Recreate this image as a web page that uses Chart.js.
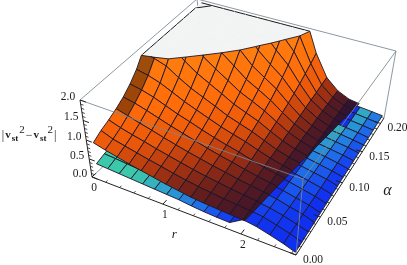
<!DOCTYPE html>
<html>
<head>
<meta charset="utf-8">
<style>
  html, body { margin: 0; padding: 0; background: #fff; }
  canvas { display: block; filter: blur(0.5px); }
</style>
<script src="https://cdn.jsdelivr.net/npm/chart.js@4/dist/chart.umd.js"></script>
</head>
<body>
<canvas id="myChart" width="407" height="265"></canvas>
<script>
const rValues = [0.1, 0.26, 0.42, 0.58, 0.74, 0.9, 1.06, 1.22, 1.38, 1.54, 1.7, 1.86, 2.02, 2.18, 2.34, 2.5, 2.64];
const aValues = [0, 0.0128, 0.0256, 0.0384, 0.0512, 0.064, 0.0768, 0.0896, 0.1024, 0.1152, 0.128, 0.1408, 0.1536, 0.1664, 0.1792, 0.192, 0.205];

// upper sheet, one line per r, one value per a. over 2 gets clipped
const upperSheet = [
  [1.00, 1.12, 1.20, 1.30, 1.42, 1.58, 1.78, 2.05, 2.4, 3, 3, 3, 3, 3, 3, 3, 3],
  [0.92, 1.00, 1.10, 1.22, 1.36, 1.52, 1.72, 1.98, 2.3, 3, 3, 3, 3, 3, 3, 3, 3],
  [0.85, 0.93, 1.02, 1.13, 1.27, 1.43, 1.62, 1.88, 2.2, 3, 3, 3, 3, 3, 3, 3, 3],
  [0.78, 0.86, 0.95, 1.05, 1.17, 1.31, 1.48, 1.68, 1.93, 2.25, 2.6, 3, 3, 3, 3, 3, 3],
  [0.72, 0.79, 0.87, 0.96, 1.07, 1.19, 1.33, 1.50, 1.71, 1.97, 2.3, 2.7, 3, 3, 3, 3, 3],
  [0.66, 0.73, 0.80, 0.88, 0.98, 1.09, 1.21, 1.36, 1.54, 1.75, 2.0, 2.3, 2.7, 3, 3, 3, 3],
  [0.60, 0.66, 0.73, 0.80, 0.89, 0.98, 1.09, 1.22, 1.37, 1.54, 1.75, 2.0, 2.3, 2.7, 3, 3, 3],
  [0.55, 0.60, 0.66, 0.73, 0.80, 0.88, 0.97, 1.07, 1.19, 1.33, 1.49, 1.68, 1.92, 2.2, 2.6, 3, 3],
  [0.50, 0.55, 0.60, 0.66, 0.72, 0.79, 0.87, 0.96, 1.06, 1.18, 1.31, 1.46, 1.64, 1.85, 2.1, 2.4, 2.8],
  [0.47, 0.51, 0.55, 0.60, 0.65, 0.71, 0.78, 0.85, 0.93, 1.02, 1.12, 1.24, 1.38, 1.54, 1.74, 2.0, 2.35],
  [0.45, 0.47, 0.50, 0.53, 0.57, 0.61, 0.66, 0.71, 0.76, 0.82, 0.88, 0.95, 1.03, 1.12, 1.22, 1.33, 1.45],
  [0.43, 0.44, 0.46, 0.48, 0.50, 0.52, 0.55, 0.57, 0.60, 0.63, 0.66, 0.69, 0.72, 0.75, 0.78, 0.81, 0.84],
  [0.41, 0.41, 0.42, 0.43, 0.44, 0.45, 0.46, 0.47, 0.48, 0.49, 0.50, 0.51, 0.52, 0.53, 0.53, 0.54, 0.54],
  [0.38, 0.38, 0.38, 0.39, 0.39, 0.39, 0.39, 0.39, 0.39, 0.39, 0.39, 0.39, 0.39, 0.39, 0.39, 0.39, 0.38],
  [0.36, 0.36, 0.36, 0.36, 0.35, 0.35, 0.35, 0.35, 0.34, 0.34, 0.34, 0.33, 0.33, 0.33, 0.33, 0.32, 0.32]
];
// where the upper sheet stops, at a = 0 and at the last a
const upperEnd = [2.04, 2.32];

// lower sheet, teal strip on the left and blue part on the right
const lowerSheet = [
  [0.44, 0.50, 0.55, 0.58, 0.60, 0.62, 0.62, 0.62, 0.62, 0.62, 0.62, 0.62, 0.62, 0.62, 0.62, 0.62, 0.62],
  [0.42, 0.48, 0.52, 0.55, 0.57, 0.58, 0.58, 0.58, 0.58, 0.58, 0.58, 0.58, 0.58, 0.58, 0.58, 0.58, 0.58],
  [0.40, 0.45, 0.49, 0.52, 0.53, 0.54, 0.54, 0.54, 0.54, 0.54, 0.54, 0.54, 0.54, 0.54, 0.54, 0.54, 0.54],
  [0.38, 0.42, 0.46, 0.48, 0.50, 0.50, 0.50, 0.50, 0.50, 0.50, 0.50, 0.50, 0.50, 0.50, 0.50, 0.50, 0.50],
  [0.36, 0.40, 0.43, 0.45, 0.46, 0.46, 0.46, 0.46, 0.46, 0.46, 0.46, 0.46, 0.46, 0.46, 0.46, 0.46, 0.46],
  [0.34, 0.37, 0.40, 0.42, 0.42, 0.42, 0.42, 0.42, 0.42, 0.42, 0.42, 0.42, 0.42, 0.42, 0.42, 0.42, 0.42],
  [0.32, 0.35, 0.37, 0.38, 0.38, 0.38, 0.38, 0.38, 0.38, 0.38, 0.38, 0.38, 0.38, 0.38, 0.38, 0.38, 0.38],
  [0.30, 0.32, 0.34, 0.35, 0.35, 0.35, 0.35, 0.35, 0.35, 0.35, 0.35, 0.35, 0.35, 0.35, 0.35, 0.35, 0.35],
  [0.26, 0.28, 0.30, 0.31, 0.31, 0.31, 0.31, 0.31, 0.31, 0.31, 0.31, 0.31, 0.31, 0.31, 0.31, 0.31, 0.31],
  [0.23, 0.24, 0.25, 0.26, 0.27, 0.27, 0.27, 0.27, 0.27, 0.27, 0.27, 0.27, 0.27, 0.27, 0.27, 0.27, 0.27],
  [0.21, 0.22, 0.23, 0.24, 0.25, 0.25, 0.25, 0.25, 0.25, 0.25, 0.25, 0.25, 0.25, 0.25, 0.25, 0.25, 0.25],
  [0.20, 0.21, 0.22, 0.23, 0.24, 0.25, 0.25, 0.26, 0.26, 0.26, 0.27, 0.27, 0.28, 0.28, 0.29, 0.30, 0.30],
  [0.42, 0.42, 0.41, 0.41, 0.40, 0.40, 0.39, 0.38, 0.37, 0.36, 0.35, 0.34, 0.33, 0.32, 0.32, 0.31, 0.30],
  [0.37, 0.37, 0.36, 0.36, 0.35, 0.35, 0.34, 0.33, 0.33, 0.32, 0.31, 0.30, 0.30, 0.29, 0.28, 0.28, 0.27],
  [0.28, 0.28, 0.28, 0.27, 0.27, 0.27, 0.27, 0.26, 0.26, 0.26, 0.25, 0.25, 0.25, 0.24, 0.24, 0.24, 0.23],
  [0.18, 0.18, 0.18, 0.19, 0.19, 0.19, 0.19, 0.19, 0.19, 0.19, 0.19, 0.19, 0.19, 0.19, 0.19, 0.19, 0.19],
  [0.07, 0.07, 0.08, 0.08, 0.09, 0.09, 0.10, 0.10, 0.11, 0.11, 0.12, 0.12, 0.13, 0.13, 0.14, 0.15, 0.15]
];

const rTickLabels = ['0', '1', '2'];
const rTicks = [0, 1, 2];
const rMinorTicks = [0.2, 0.4, 0.6, 0.8, 1.2, 1.4, 1.6, 1.8, 2.2, 2.4, 2.6];
const aTickLabels = ['0.00', '0.05', '0.10', '0.15', '0.20'];
const aTicks = [0, 0.05, 0.10, 0.15, 0.20];
const aMinorTicks = [0.01, 0.02, 0.03, 0.04, 0.06, 0.07, 0.08, 0.09, 0.11, 0.12, 0.13, 0.14, 0.16, 0.17, 0.18, 0.19];
const zTickLabels = ['0.0', '0.5', '1.0', '1.5', '2.0'];
const zTicks = [0, 0.5, 1, 1.5, 2];
const zMinorTicks = [0.1, 0.2, 0.3, 0.4, 0.6, 0.7, 0.8, 0.9, 1.1, 1.2, 1.3, 1.4, 1.6, 1.7, 1.8, 1.9];

const rMax = 2.65, aMax = 0.21, zMax = 2;

// box corners on the canvas, index is [r][a][z]
const frame = [
  [[[92, 177], [80, 100]], [[205, 70], [197, -1]]],
  [[[296, 255], [303, 179]], [[384, 118], [396, 51]]]
];
const persp = { r: 0.88, a: 1.2, z: 0.92 };

function project(r, a, z) {
  const u = r / rMax, v = a / aMax, w = z / zMax;
  let sx = 0, sy = 0, sw = 0;
  for (let i = 0; i < 2; i++) for (let j = 0; j < 2; j++) for (let k = 0; k < 2; k++) {
    const b = (i ? u : 1 - u) * (j ? v : 1 - v) * (k ? w : 1 - w);
    const h = 1 + i * (persp.r - 1) + j * (persp.a - 1) + k * (persp.z - 1);
    sx += b * h * frame[i][j][k][0];
    sy += b * h * frame[i][j][k][1];
    sw += b * h;
  }
  return { x: sx / sw, y: sy / sw };
}

function clip(poly, g) {
  const out = [];
  for (let i = 0; i < poly.length; i++) {
    const p = poly[i], q = poly[(i + 1) % poly.length];
    const gp = g(p), gq = g(q);
    if (gp <= 0) out.push(p);
    if ((gp <= 0) !== (gq <= 0)) {
      const t = gp / (gp - gq);
      out.push({ r: p.r + t * (q.r - p.r), a: p.a + t * (q.a - p.a), z: p.z + t * (q.z - p.z) });
    }
  }
  return out;
}

function mix(stops, t) {
  if (t <= stops[0][0]) return stops[0][1];
  for (let i = 1; i < stops.length; i++) {
    if (t <= stops[i][0]) {
      const f = (t - stops[i - 1][0]) / (stops[i][0] - stops[i - 1][0]);
      return stops[i - 1][1].map((c, n) => c + f * (stops[i][1][n] - c));
    }
  }
  return stops[stops.length - 1][1];
}
const rgb = c => 'rgb(' + c.map(Math.round).join(',') + ')';

const upperColors = [
  [0.36, [50, 20, 48]], [0.5, [95, 28, 30]], [0.7, [170, 52, 16]],
  [0.95, [235, 88, 10]], [1.3, [255, 108, 10]], [2, [255, 125, 15]]
];
const lowerColors = [
  [0, [16, 48, 240]], [0.3, [30, 105, 235]], [0.6, [40, 150, 215]], [1, [60, 200, 170]]
];

const endAt = a => upperEnd[0] + (upperEnd[1] - upperEnd[0]) * a / aValues[aValues.length - 1];
const cell = (sheet, i, j) => [
  { r: rValues[i], a: aValues[j], z: sheet[i][j] },
  { r: rValues[i + 1], a: aValues[j], z: sheet[i + 1][j] },
  { r: rValues[i + 1], a: aValues[j + 1], z: sheet[i + 1][j + 1] },
  { r: rValues[i], a: aValues[j + 1], z: sheet[i][j + 1] }
];

const datasets = [];
function addPoly(poly, fillColor, lineColor, lineWidth) {
  if (poly.length < 3) return;
  const pts = poly.map(p => project(p.r, p.a, p.z));
  pts.push(pts[0]);
  datasets.push({
    data: pts, showLine: true, pointRadius: 0, fill: 'shape',
    backgroundColor: fillColor, borderColor: lineColor, borderWidth: lineWidth
  });
}
function addLine(points, color, width) {
  datasets.push({
    data: points.map(p => project(p[0], p[1], p[2])),
    showLine: true, pointRadius: 0, fill: false, borderColor: color, borderWidth: width
  });
}

const boxGray = 'rgba(120,135,145,0.85)';
// back edges of the box first
addLine([[0, 0, 0], [0, aMax, 0], [rMax, aMax, 0]], boxGray, 1);
addLine([[0, aMax, 0], [0, aMax, zMax]], boxGray, 1);
addLine([[0, 0, zMax], [0, aMax, zMax], [rMax, aMax, zMax], [rMax, aMax, 0]], boxGray, 1);

const meshColor = 'rgba(30,22,40,0.9)';
for (let j = aValues.length - 2; j >= 0; j--) {
  for (let i = 0; i < rValues.length - 1; i++) {
    const c = cell(lowerSheet, i, j);
    const r = (c[0].r + c[1].r) / 2, a = (c[0].a + c[3].a) / 2;
    let t;
    if (r < endAt(a)) t = Math.max(0, (1.9 - r) / 1.3);
    else t = (a / 0.2) * Math.max(0, 1 - (r - endAt(a)) / 0.45);
    addPoly(c, rgb(mix(lowerColors, t)), meshColor, 1);
  }
}

// the flat clipped part at z = 2
const keepEnd = p => p.r - endAt(p.a);
for (let j = aValues.length - 2; j >= 0; j--) {
  for (let i = 0; i < upperSheet.length - 1; i++) {
    const top = clip(clip(cell(upperSheet, i, j), p => 2 - p.z), keepEnd).map(p => ({ r: p.r, a: p.a, z: 2 }));
    addPoly(top, '#f2f4f4', '#f2f4f4', 0.5);
    const lastA = aValues[aValues.length - 1];
    const backEdge = top.filter(p => p.a === lastA || p.r === rValues[0]);
    if (backEdge.length > 1) addLine(backEdge.map(p => [p.r, p.a, 2]), '#1a1a1a', 1);
  }
}

for (let j = aValues.length - 2; j >= 0; j--) {
  for (let i = 0; i < upperSheet.length - 1; i++) {
    const c = cell(upperSheet, i, j);
    const mean = Math.min(2, (c[0].z + c[1].z + c[2].z + c[3].z) / 4);
    let col = mix(upperColors, mean);
    if (i === 0 && j > 2) col = col.map(v => v * 0.62);
    addPoly(clip(clip(c, p => p.z - 2), keepEnd), rgb(col), meshColor, 1);
  }
}

// front edges of the box run over the surface
addLine([[0, 0, zMax], [rMax, 0, zMax], [rMax, aMax, zMax]], boxGray, 1);
addLine([[rMax, 0, zMax], [rMax, 0, 0]], boxGray, 1);

// axes and ticks
const axisColor = '#222';
addLine([[0, 0, 0], [rMax, 0, 0]], axisColor, 1);
addLine([[rMax, 0, 0], [rMax, aMax, 0]], axisColor, 1);
addLine([[0, 0, 0], [0, 0, zMax]], axisColor, 1);
rTicks.forEach(t => addLine([[t, 0, 0], [t, 0.006, 0]], axisColor, 1));
rMinorTicks.forEach(t => addLine([[t, 0, 0], [t, 0.003, 0]], axisColor, 0.8));
aTicks.forEach(t => addLine([[rMax, t, 0], [rMax - 0.08, t, 0]], axisColor, 1));
aMinorTicks.forEach(t => addLine([[rMax, t, 0], [rMax - 0.04, t, 0]], axisColor, 0.8));
zTicks.forEach(t => addLine([[0, 0, t], [0.08, 0, t]], axisColor, 1));
zMinorTicks.forEach(t => addLine([[0, 0, t], [0.04, 0, t]], axisColor, 0.8));

const textPlugin = {
  id: 'axisText',
  afterDraw(chart) {
    const ctx = chart.ctx, sx = chart.scales.x, sy = chart.scales.y;
    const put = (txt, p, dx, dy, font) => {
      ctx.font = font;
      ctx.fillText(txt, sx.getPixelForValue(p.x) + dx, sy.getPixelForValue(p.y) + dy);
    };
    const serif = '11.5px "Liberation Serif"';
    ctx.save();
    ctx.fillStyle = '#1c1c1c';
    ctx.textAlign = 'center';
    ctx.textBaseline = 'middle';
    zTicks.forEach((t, i) => put(zTickLabels[i], project(0, 0, t), -12, -3, serif));
    rTicks.forEach((t, i) => put(rTickLabels[i], project(t, 0, 0), 2, 11, serif));
    aTicks.forEach((t, i) => put(aTickLabels[i], project(rMax, t, 0), 17, 5, serif));
    put('r', project(1.15, 0, 0), 0, 26, 'italic 13px "Liberation Serif"');
    put('\u03b1', project(rMax, 0.105, 0), 43, 11, 'italic 16px "Liberation Serif"');
    // z axis title, written in pieces for the raised 2s
    const base = project(0, 0, 1.07);
    let x = sx.getPixelForValue(base.x) - 84;
    const y = sy.getPixelForValue(base.y) - 2;
    ctx.textAlign = 'left';
    const pieces = [
      ['|', 0, '12px "Liberation Serif"'], ['v', 0, 'bold 11px "Liberation Serif"'], ['st', 3, 'bold 9px "Liberation Serif"'],
      ['2', -5, '11px "Liberation Serif"'], ['\u2212', 0, '12px "Liberation Serif"'], ['v', 0, 'bold 11px "Liberation Serif"'],
      ['st', 3, 'bold 9px "Liberation Serif"'], ['2', -5, '11px "Liberation Serif"'], ['|', 0, '12px "Liberation Serif"']
    ];
    pieces.forEach(p => {
      ctx.font = p[2];
      ctx.fillText(p[0], x, y + p[1]);
      x += ctx.measureText(p[0]).width + 1;
    });
    ctx.restore();
  }
};

// chart.js paints the first dataset last, so flip the list
datasets.reverse();

const ctx = document.getElementById('myChart').getContext('2d');
const myChart = new Chart(ctx, {
  type: 'scatter',
  data: { datasets: datasets },
  options: {
    responsive: false,
    animation: false,
    layout: { padding: 0 },
    elements: { line: { tension: 0, borderJoinStyle: 'round' } },
    plugins: { legend: { display: false }, tooltip: { enabled: false }, title: { display: false } },
    scales: {
      x: { type: 'linear', display: false, min: 0, max: 407 },
      y: { type: 'linear', display: false, min: 0, max: 265, reverse: true }
    }
  },
  plugins: [textPlugin]
});
</script>
</body>
</html>
